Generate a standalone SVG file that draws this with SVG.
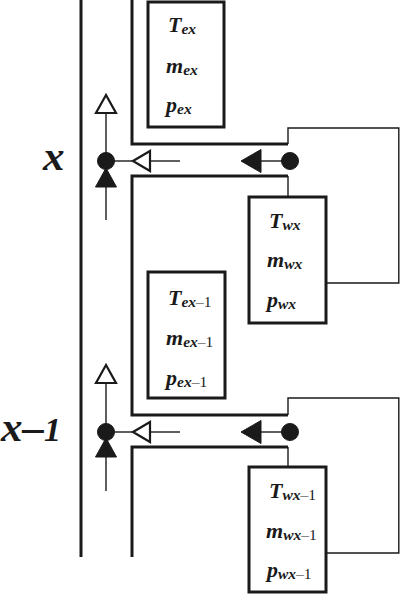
<svg xmlns="http://www.w3.org/2000/svg" width="400" height="595" viewBox="0 0 400 595">
<style>
.thick{fill:none;stroke:#1a1a1a;stroke-width:3}
.thin{fill:none;stroke:#1a1a1a;stroke-width:1.4}
.box{fill:#fff;stroke:#1a1a1a;stroke-width:3}
.fill{fill:#1a1a1a;stroke:#1a1a1a;stroke-width:1}
.hollow{fill:#fff;stroke:#1a1a1a;stroke-width:2.2}
.v{font-family:"Liberation Serif","Times New Roman",serif;font-weight:bold;font-style:italic;font-size:22px;fill:#1a1a1a}
.s{font-size:15.5px}
.n{font-style:normal;font-weight:normal}
.lab{font-family:"Liberation Serif","Times New Roman",serif;font-weight:bold;font-style:italic;font-size:43px;fill:#1a1a1a}
</style>
<rect width="400" height="595" fill="#fff"/>
<g id="connectors">
  <line class="thick" x1="81" y1="0" x2="81" y2="557"/>
  <polyline class="thick" points="132,0 132,144 288,144"/>
  <polyline class="thick" points="288,176 132,176 132,415 288,415"/>
  <polyline class="thick" points="288,447 132,447 132,557"/>
  <polyline class="thin" points="288,144 288,128 398.8,128 398.8,283 326,283"/>
  <polyline class="thin" points="288,176 288,197"/>
  <polyline class="thin" points="288,415 288,398 398.8,398 398.8,553 326,553"/>
  <polyline class="thin" points="288,447 288,467"/>
  <line class="thin" x1="106" y1="113" x2="106" y2="161"/>
  <line class="thin" x1="106" y1="187" x2="106" y2="220"/>
  <line class="thin" x1="106" y1="161" x2="132" y2="161"/>
  <line class="thin" x1="150" y1="161" x2="180" y2="161"/>
  <line class="thin" x1="261" y1="161" x2="290" y2="161"/>
  <polygon class="hollow" points="106,95 96,113 116,113"/>
  <polygon class="fill" points="106,168 95.5,187 116.5,187"/>
  <polygon class="hollow" points="133,161 150,151 150,171"/>
  <polygon class="fill" points="241,161 261,149.5 261,172.5"/>
  <circle class="fill" cx="106" cy="161" r="8.5"/>
  <circle class="fill" cx="290" cy="161" r="8.5"/>
  <line class="thin" x1="106" y1="383" x2="106" y2="432"/>
  <line class="thin" x1="106" y1="457" x2="106" y2="491"/>
  <line class="thin" x1="106" y1="432" x2="132" y2="432"/>
  <line class="thin" x1="150" y1="432" x2="180" y2="432"/>
  <line class="thin" x1="261" y1="432" x2="290" y2="432"/>
  <polygon class="hollow" points="106,365 96,383 116,383"/>
  <polygon class="fill" points="106,438 95.5,457 116.5,457"/>
  <polygon class="hollow" points="133,432 150,422 150,442"/>
  <polygon class="fill" points="241,432 261,420.5 261,443.5"/>
  <circle class="fill" cx="106" cy="432" r="8.5"/>
  <circle class="fill" cx="290" cy="432" r="8.5"/>
</g>
<g id="label-x">
  <text class="lab" x="43" y="170">x</text>
</g>
<g id="label-x-1">
  <text class="lab" x="1" y="441">x–<tspan font-size="34">1</tspan></text>
</g>
<g id="node-ex">
  <rect class="box" x="148" y="2" width="76" height="125"/>
  <text class="v" x="168" y="32">T<tspan class="s" dy="2">ex</tspan></text>
  <text class="v" x="166" y="73">m<tspan class="s" dy="2">ex</tspan></text>
  <text class="v" x="166" y="112">p<tspan class="s" dy="2">ex</tspan></text>
</g>
<g id="node-wx">
  <rect class="box" x="249" y="197" width="77" height="126"/>
  <text class="v" x="269" y="228">T<tspan class="s" dy="2">wx</tspan></text>
  <text class="v" x="267" y="267">m<tspan class="s" dy="2">wx</tspan></text>
  <text class="v" x="267" y="307">p<tspan class="s" dy="2">wx</tspan></text>
</g>
<g id="node-ex-1">
  <rect class="box" x="148" y="272" width="77" height="126"/>
  <text class="v" x="168" y="305">T<tspan class="s" dy="2">ex<tspan class="n">–1</tspan></tspan></text>
  <text class="v" x="166" y="345">m<tspan class="s" dy="2">ex<tspan class="n">–1</tspan></tspan></text>
  <text class="v" x="166" y="385">p<tspan class="s" dy="2">ex<tspan class="n">–1</tspan></tspan></text>
</g>
<g id="node-wx-1">
  <rect class="box" x="249" y="467" width="77" height="125"/>
  <text class="v" x="269" y="498">T<tspan class="s" dy="2">wx<tspan class="n">–1</tspan></tspan></text>
  <text class="v" x="266" y="538">m<tspan class="s" dy="2">wx<tspan class="n">–1</tspan></tspan></text>
  <text class="v" x="267" y="577">p<tspan class="s" dy="2">wx<tspan class="n">–1</tspan></tspan></text>
</g>
</svg>
